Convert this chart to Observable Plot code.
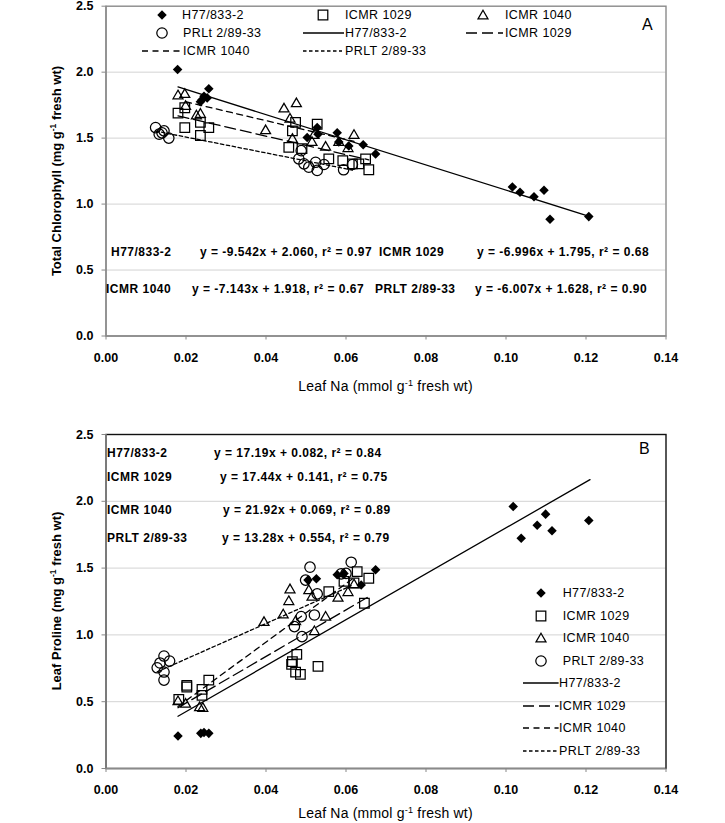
<!DOCTYPE html>
<html><head><meta charset="utf-8">
<script src="https://cdn.jsdelivr.net/npm/d3@7"></script>
<script src="https://cdn.jsdelivr.net/npm/@observablehq/plot@0.6"></script>
<style>
body{margin:0;background:#fff;}
#wrap{position:relative;width:725px;height:823px;overflow:hidden;font-family:"Liberation Sans",Arial,sans-serif;color:#000;}
#wrap svg.plot{position:absolute;left:0;}
.t{position:absolute;white-space:nowrap;line-height:1;transform:translateY(-50%);font-size:12.5px;letter-spacing:0.4px;}
.eq{font-weight:bold;font-size:12px;letter-spacing:0.5px;}
.ytitle{position:absolute;white-space:nowrap;line-height:1;font-weight:bold;font-size:13px;transform:translate(-50%,-50%) rotate(-90deg);}
.xtitle{position:absolute;white-space:nowrap;line-height:1;font-size:14px;transform:translate(-50%,-50%);letter-spacing:0.2px;}
sup{font-size:0.65em;vertical-align:0.5em;line-height:0;}
.sym{position:absolute;overflow:visible;}
</style></head><body><div id="wrap"></div>
<script>
// ---------- shared ----------
const series = ["H77/833-2", "ICMR 1029", "ICMR 1040", "PRLT 2/89-33"];
const xTicks = [0, 0.02, 0.04, 0.06, 0.08, 0.10, 0.12, 0.14];
const yTicks = [0, 0.5, 1.0, 1.5, 2.0, 2.5];

// ---------- Panel A: leaf Na vs total chlorophyll ----------
const chlH77 = [[0.0179,2.02],[0.0236,1.775],[0.0245,1.818],[0.0253,1.805],[0.0257,1.875],[0.0240,1.79],
  [0.0503,1.505],[0.0528,1.58],[0.0530,1.53],[0.0578,1.54],[0.0582,1.47],[0.0607,1.44],[0.0643,1.45],[0.0674,1.38],
  [0.1016,1.13],[0.1035,1.09],[0.1070,1.055],[0.1095,1.105],[0.1110,0.885],[0.1207,0.905]];
const chl1029 = [[0.0180,1.69],[0.0197,1.73],[0.0197,1.58],[0.0236,1.62],[0.0236,1.52],[0.0257,1.58],
  [0.0457,1.43],[0.0466,1.555],[0.0474,1.62],[0.0490,1.42],[0.0528,1.605],[0.0557,1.343],[0.0592,1.33],
  [0.0616,1.305],[0.0632,1.305],[0.0649,1.343],[0.0657,1.26]];
const chl1040 = [[0.0180,1.82],[0.0197,1.83],[0.0199,1.74],[0.0226,1.668],[0.0236,1.68],[0.0399,1.555],
  [0.0445,1.72],[0.0476,1.76],[0.0460,1.643],[0.0466,1.49],[0.0515,1.467],[0.0520,1.52],[0.0549,1.43],
  [0.0582,1.467],[0.0605,1.42],[0.0620,1.52]];
const chlPRLT = [[0.0124,1.58],[0.0133,1.53],[0.0140,1.54],[0.0145,1.555],[0.0157,1.50],[0.0482,1.343],
  [0.0488,1.405],[0.0495,1.305],[0.0507,1.28],[0.0524,1.317],[0.0528,1.255],[0.0545,1.30],[0.0594,1.26],[0.0616,1.30]];
const chlSlope = [-9.542, -6.996, -7.143, -6.007];
const chlIntercept = [2.060, 1.795, 1.918, 1.628];
const chlFitFrom = [0.018, 0.018, 0.0199, 0.0124];
const chlFitTo = [0.121, 0.0657, 0.062, 0.0616];
const chlEquations = ["y = -9.542x + 2.060, r² = 0.97", "y = -6.996x + 1.795, r² = 0.68",
  "y = -7.143x + 1.918, r² = 0.67", "y = -6.007x + 1.628, r² = 0.90"];

// ---------- Panel B: leaf Na vs leaf proline ----------
const proH77 = [[0.0180,0.244],[0.0237,0.263],[0.0245,0.27],[0.0257,0.263],[0.0505,1.41],[0.0526,1.42],
  [0.0578,1.45],[0.0595,1.46],[0.0638,1.374],[0.0674,1.487],[0.1018,1.961],[0.1038,1.724],[0.1078,1.82],
  [0.1099,1.904],[0.1115,1.78],[0.1207,1.856]];
const pro1029 = [[0.0182,0.517],[0.0202,0.622],[0.0202,0.61],[0.0240,0.592],[0.0240,0.547],[0.0257,0.662],
  [0.0464,0.779],[0.0466,0.80],[0.0477,0.854],[0.0474,0.722],[0.0486,0.704],[0.0530,0.765],[0.0557,1.324],
  [0.0595,1.40],[0.0620,1.39],[0.0628,1.474],[0.0657,1.424],[0.0646,1.237]];
const pro1040 = [[0.0180,0.50],[0.0199,0.48],[0.0234,0.455],[0.0242,0.45],[0.0395,1.092],[0.0443,1.149],
  [0.0457,1.249],[0.0460,1.337],[0.0474,1.099],[0.0507,1.33],[0.0515,1.282],[0.0521,1.024],[0.0549,1.132],
  [0.0580,1.274],[0.0605,1.316],[0.0620,1.374]];
const proPRLT = [[0.0128,0.754],[0.0135,0.79],[0.0145,0.842],[0.0159,0.804],[0.0145,0.722],[0.0145,0.662],
  [0.0471,1.062],[0.0488,1.137],[0.0490,0.987],[0.0499,1.41],[0.0510,1.507],[0.0521,1.149],[0.0528,1.307],
  [0.0588,1.457],[0.0613,1.544],[0.0600,1.46]];
const proSlope = [17.19, 17.44, 21.92, 13.28];
const proIntercept = [0.082, 0.141, 0.069, 0.554];
const proFitFrom = [0.018, 0.018, 0.018, 0.0128];
const proFitTo = [0.121, 0.0657, 0.062, 0.0613];
const proEquations = ["y = 17.19x + 0.082, r² = 0.84", "y = 17.44x + 0.141, r² = 0.75",
  "y = 21.92x + 0.069, r² = 0.89", "y = 13.28x + 0.554, r² = 0.79"];

// ---------- styles ----------
const dashes = [null, "11,5", "6,4.5", "3.5,2.5"];
const symbolNames = ["diamond2", "square", "triangle", "circle"];
const symbolTypes = [d3.symbolDiamond2, d3.symbolSquare, d3.symbolTriangle, d3.symbolCircle];
const symbolR = [4.3, 5.4, 3.7, 5.2];

function makePanel({sets, slopes, intercepts, from, to, height, mt, mb, frameColor, axisColor}) {
  const marks = [Plot.ruleY(yTicks.slice(1, -1), {stroke: "#d3d3d3", strokeWidth: 1})];
  series.forEach((name, i) => {
    const seg = [from[i], to[i]].map(x => ({x, y: slopes[i] * x + intercepts[i]}));
    marks.push(Plot.line(seg, {x: "x", y: "y", stroke: "#000", strokeWidth: 1.3, strokeDasharray: dashes[i]}));
  });
  sets.forEach((data, i) => {
    marks.push(Plot.dot(data, {x: d => d[0], y: d => d[1], symbol: symbolNames[i], r: symbolR[i],
      fill: i === 0 ? "#000" : "none", stroke: i === 0 ? "none" : "#000", strokeWidth: 1.25}));
  });
  marks.push(Plot.frame({stroke: frameColor, strokeWidth: 1.4}));
  marks.push(Plot.ruleX([0], {stroke: axisColor, strokeWidth: 1.4}));
  marks.push(Plot.ruleY([0], {stroke: axisColor, strokeWidth: 1.4}));
  marks.push(Plot.axisX({ticks: xTicks, tickFormat: d => d.toFixed(2), tickSize: 4, tickPadding: 13, label: null, stroke: "#888"}));
  marks.push(Plot.axisY({ticks: yTicks, tickFormat: d => d.toFixed(1), tickSize: 4, tickPadding: 8.5, label: null, stroke: "#888"}));
  return Plot.plot({
    width: 725, height, marginLeft: 105.5, marginRight: 59.5, marginTop: mt, marginBottom: mb,
    x: {domain: [0, 0.14]}, y: {domain: [0, 2.5]},
    style: {fontFamily: '"Liberation Sans", Arial, sans-serif', fontSize: "12.5px", fontWeight: "bold", color: "#000", background: "transparent"},
    marks
  });
}

const wrap = document.getElementById("wrap");
const A = makePanel({sets: [chlH77, chl1029, chl1040, chlPRLT], slopes: chlSlope, intercepts: chlIntercept,
  from: chlFitFrom, to: chlFitTo, height: 400, mt: 5.7, mb: 64.5, frameColor: "#8a8a8a", axisColor: "#8a8a8a"});
A.classList.add("plot"); A.style.top = "0px"; wrap.appendChild(A);
const B = makePanel({sets: [proH77, pro1029, pro1040, proPRLT], slopes: proSlope, intercepts: proIntercept,
  from: proFitFrom, to: proFitTo, height: 413, mt: 24, mb: 55, frameColor: "#111", axisColor: "#8a8a8a"});
B.classList.add("plot"); B.style.top = "410px"; wrap.appendChild(B);

function addText(html, x, y, cls = "t", style = "") {
  const d = document.createElement("div");
  d.className = cls; d.innerHTML = html;
  d.style.cssText += `left:${x}px;top:${y}px;` + style;
  wrap.appendChild(d);
}
function addMarker(i, cx, cy) {
  const r = symbolR[i];
  const path = d3.symbol(symbolTypes[i], r * r * Math.PI)();
  const fill = i === 0 ? "#000" : "none", stroke = i === 0 ? "none" : "#000";
  const s = document.createElementNS("http://www.w3.org/2000/svg", "svg");
  s.setAttribute("class", "sym"); s.setAttribute("width", 20); s.setAttribute("height", 20);
  s.style.left = (cx - 10) + "px"; s.style.top = (cy - 10) + "px";
  s.innerHTML = `<path transform="translate(10,10)" d="${path}" fill="${fill}" stroke="${stroke}" stroke-width="1.25"/>`;
  wrap.appendChild(s);
}
function addLine(i, x1, x2, cy) {
  const s = document.createElementNS("http://www.w3.org/2000/svg", "svg");
  s.setAttribute("class", "sym"); s.setAttribute("width", x2 - x1); s.setAttribute("height", 6);
  s.style.left = x1 + "px"; s.style.top = (cy - 3) + "px";
  s.innerHTML = `<line x1="0" x2="${x2 - x1}" y1="3" y2="3" stroke="#000" stroke-width="1.3" ${dashes[i] ? `stroke-dasharray="${dashes[i]}"` : ""}/>`;
  wrap.appendChild(s);
}

// Panel A legend
addMarker(0, 162, 15); addText(series[0], 182, 15);
addMarker(1, 322.5, 15); addText(series[1], 345, 15);
addMarker(2, 483, 16); addText(series[2], 505, 15);
addMarker(3, 162, 33); addText("PRLt 2/89-33", 183, 33);
addLine(0, 303, 344, 33); addText(series[0], 345, 33);
addLine(1, 466, 503, 33); addText(series[1], 505, 33);
addLine(2, 142, 181, 51); addText(series[2], 183, 51);
addLine(3, 303, 342, 51); addText(series[3], 345, 51);
addText("A", 642, 25, "t", "font-size:16px;letter-spacing:0;");

// Panel A equations
addText(series[0], 111, 252, "t eq"); addText(chlEquations[0], 200, 252, "t eq");
addText(series[1], 379, 252, "t eq"); addText(chlEquations[1], 477, 252, "t eq");
addText(series[2], 106, 289, "t eq"); addText(chlEquations[2], 192, 289, "t eq");
addText(series[3], 375, 289, "t eq"); addText(chlEquations[3], 475, 289, "t eq");

// Panel B equations
const eqRowsB = [453, 477, 510, 538], eqXB = [214, 220, 223, 222];
series.forEach((s, i) => { addText(s, 107, eqRowsB[i], "t eq"); addText(proEquations[i], eqXB[i], eqRowsB[i], "t eq"); });
addText("B", 639, 449, "t", "font-size:16px;letter-spacing:0;");

// Panel B legend
const legRowsB = [593.3, 616, 638.3, 660.7, 683.3, 705.7, 728.3, 750.7];
series.forEach((s, i) => { addMarker(i, 540.7, legRowsB[i] + (i === 2 ? 1 : 0)); addText(s, 562.7, legRowsB[i]); });
series.forEach((s, i) => { addLine(i, 522.7, 558.3, legRowsB[i + 4]); addText(s, 559, legRowsB[i + 4]); });

// Axis titles
addText("Leaf Na (mmol g<sup>-1</sup> fresh wt)", 385.5, 386, "xtitle");
addText("Leaf Na (mmol g<sup>-1</sup> fresh wt)", 385.5, 813, "xtitle");
addText("Total Chlorophyll (mg g<sup>-1</sup> fresh wt)", 56, 171, "ytitle");
addText("Leaf Proline (mg g<sup>-1</sup> fresh wt)", 56, 601, "ytitle");
</script></body></html>
